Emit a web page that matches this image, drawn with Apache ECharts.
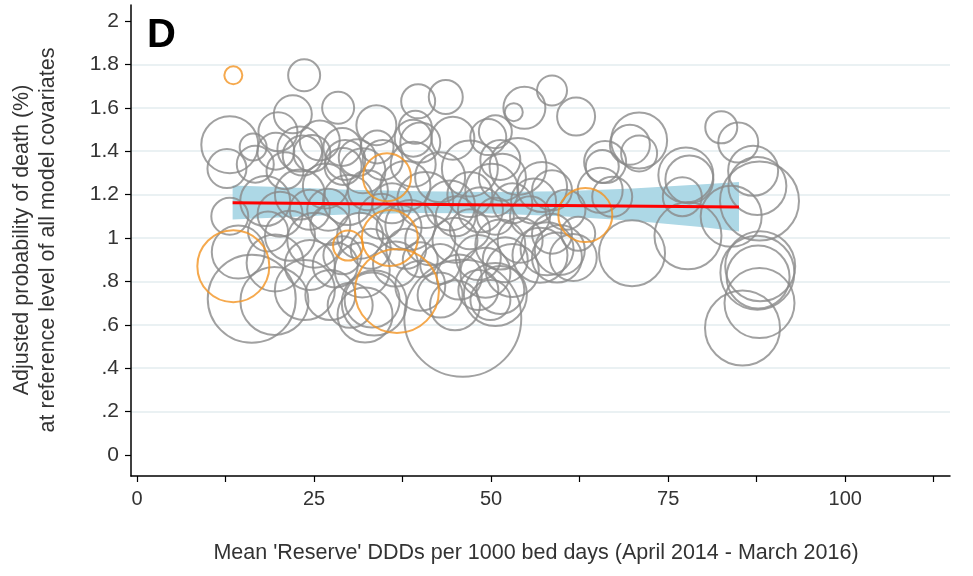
<!DOCTYPE html>
<html>
<head>
<meta charset="utf-8">
<script src="https://cdn.jsdelivr.net/npm/echarts@6/dist/echarts.min.js"></script>
<style>
html,body{margin:0;padding:0;background:#fff;}
#chart{width:973px;height:576px;}
</style>
</head>
<body>
<div id="chart"></div>
<script>
// ---- data (x = mean Reserve DDDs, y = adjusted probability of death %, s = bubble weight) ----
var grayX = [23.6,28.4,22.0,33.8,39.7,43.6,54.7,53.2,58.6,62.0,70.9,70.9,66.1,82.5,84.9,87.0,87.6,87.9,83.9,77.5,78.0,77.0,77.8,69.9,88.0,87.7,87.6,87.9,85.5,
  13.1,12.7,16.4,19.9,16.7,20.9,24.7,18.1,13.1,16.2,19.4,14.3,19.5,19.6,23.4,29.0,29.1,33.9,39.3,50.6,
  39.0,44.6,49.6,31.1,23.0,25.8,29.4,31.9,34.7,40.0,47.0,42.8,39.0,51.3,
  23.0,26.6,29.8,32.6,37.9,40.7,44.2,47.0,51.6,53.8,57.2,58.6,50.1,53.0,60.5,24.4,20.2,
  21.6,25.1,27.3,31.5,38.6,41.4,44.9,47.0,50.6,51.3,54.1,58.6,62.3,56.9,59.7,52.0,48.2,42.8,40.0,24.4,28.0,31.8,
  23.7,27.3,30.1,33.2,32.2,40.0,42.8,44.9,48.2,49.9,51.3,46.0,50.6,53.0,49.2,57.9,59.3,61.6,65.4,67.1,65.7,69.6,33.5,
  34.5,36.0,37.0,33.0,29.0,36.5,38.0,45.0,48.5,55.5,56.0,27.0,18.5,45.5];
var grayY = [1.75,1.60,1.57,1.52,1.63,1.65,1.60,1.58,1.68,1.56,1.45,1.39,1.35,1.51,1.44,1.31,1.24,1.17,1.10,1.29,1.27,1.19,1.01,0.93,0.87,0.82,0.84,0.70,0.585,
  1.43,1.32,1.42,1.49,1.34,1.31,1.39,1.17,1.10,0.72,0.71,0.935,0.885,1.40,1.38,1.42,1.33,1.42,1.51,1.49,
  1.46,1.46,1.465,1.37,1.41,1.45,1.36,1.31,1.36,1.44,1.32,1.28,1.34,1.36,
  1.20,1.24,1.175,1.22,1.24,1.175,1.15,1.20,1.28,1.33,1.235,1.22,1.22,1.16,1.13,1.13,1.11,
  1.01,0.99,1.06,1.01,1.06,0.99,0.99,1.04,1.10,0.97,0.99,1.02,1.02,0.92,0.945,0.90,0.91,0.88,0.90,0.876,0.876,0.853,
  0.76,0.737,0.69,0.714,0.645,0.78,0.737,0.69,0.76,0.714,0.76,0.63,0.74,0.85,0.84,0.95,0.91,0.91,1.22,1.19,1.33,1.43,0.70,
  1.10,1.16,1.05,0.95,0.92,0.88,0.95,1.10,1.13,1.10,1.17,1.13,1.03,0.82];
var grayS = [32,32,38,40,34,34,42,18,30,38,56,36,42,32,40,50,58,79,61,55,48,39,67,66,70,63,74,70,75,
  57,39,27,39,37,37,37,50,37,88,68,53,57,37,40,38,37,33,33,33,
  37,43,36,37,45,40,40,45,40,40,56,50,45,40,
  50,45,50,40,50,56,50,45,47,57,50,40,53,40,40,40,45,
  50,55,40,46,50,50,45,40,37,50,45,40,34,55,50,45,45,40,35,50,45,55,
  60,50,45,55,55,50,45,50,40,40,48,117,63,53,50,53,50,47,45,40,33,40,65,
  45,40,45,40,38,45,40,40,45,40,45,42,40,45];

var orangeX = [13.6,13.6,35.3,29.8,35.7,36.7,63.3];
var orangeY = [1.75,0.87,1.28,0.965,1.00,0.756,1.106];
var orangeS = [18,72,48,30,56,84,54];

var fitX = [13.5, 85];
var fitY = [1.162, 1.143];

var bandX    = [13.5, 20, 30, 40, 50, 60, 70, 80, 85];
var bandLow  = [1.085,1.095,1.11,1.115,1.113,1.10,1.08,1.05,1.03];
var bandHigh = [1.242,1.235,1.222,1.215,1.212,1.215,1.228,1.248,1.258];

var yTicks = [0,0.2,0.4,0.6,0.8,1,1.2,1.4,1.6,1.8,2];
var xTicks = [0,12.5,25,37.5,50,62.5,75,87.5,100,112.5];
var xLabels = [0,25,50,75,100];

// ---- build ----
function zip3(a,b,c){ var r=[]; for(var i=0;i<a.length;i++) r.push([a[i],b[i],c[i]]); return r; }
function zip2(a,b){ var r=[]; for(var i=0;i<a.length;i++) r.push([a[i],b[i]]); return r; }

var FONT = 'Liberation Sans, Arial, sans-serif';
var chart = echarts.init(document.getElementById('chart'), null, {renderer:'canvas'});

var bandPoly = [];
for (var i=0;i<bandX.length;i++) bandPoly.push([bandX[i], bandHigh[i]]);
for (var j=bandX.length-1;j>=0;j--) bandPoly.push([bandX[j], bandLow[j]]);

chart.setOption({
  animation:false,
  backgroundColor:'#ffffff',
  grid:{left:131, right:23, top:5, bottom:100, containLabel:false},
  xAxis:{
    type:'value', min:-0.85, max:114.8,
    axisLine:{show:true, onZero:false, lineStyle:{color:'#000', width:1.5}},
    axisTick:{show:true, length:6, customValues:xTicks, lineStyle:{color:'#000', width:1.2}},
    axisLabel:{show:true, customValues:xLabels, margin:13, fontSize:20, color:'#333', fontFamily:FONT},
    splitLine:{show:false}
  },
  yAxis:{
    type:'value', min:-0.097, max:2.074,
    axisLine:{show:true, onZero:false, lineStyle:{color:'#000', width:1.5}},
    axisTick:{show:true, length:6, customValues:yTicks, lineStyle:{color:'#000', width:1.2}},
    axisLabel:{show:true, customValues:yTicks, margin:12, fontSize:21, color:'#333', fontFamily:FONT,
      formatter:function(v){ var s = String(Math.round(v*10)/10); return s.replace(/^0\./,'.'); }},
    splitLine:{show:true, showMinLine:false, showMaxLine:false, lineStyle:{color:'#e3edef', width:1.5}}
  },
  series:[
    {
      type:'custom', z:1, silent:true,
      data:[0],
      renderItem:function(params, api){
        var pts = bandPoly.map(function(p){ return api.coord(p); });
        return {type:'polygon', shape:{points:pts}, style:{fill:'#add8e6'}};
      }
    },
    {
      type:'scatter', z:2, symbol:'circle',
      data:zip3(grayX, grayY, grayS),
      symbolSize:function(v){ return v[2]; },
      itemStyle:{color:'rgba(0,0,0,0)', borderColor:'#8a8a8a', borderWidth:2}
    },
    {
      type:'scatter', z:3, symbol:'circle',
      data:zip3(orangeX, orangeY, orangeS),
      symbolSize:function(v){ return v[2]; },
      itemStyle:{color:'rgba(0,0,0,0)', borderColor:'#f39322', borderWidth:2}
    },
    {
      type:'line', z:4, symbol:'none',
      data:zip2(fitX, fitY),
      lineStyle:{color:'#ff0000', width:3}
    }
  ],
  graphic:[
    {type:'text', left:147, top:16, style:{text:'D', font:'bold 40px '+FONT, fill:'#000'}},
    {type:'text', x:22, y:240, rotation:Math.PI/2,
      style:{text:'Adjusted probability of death (%)', font:'21.5px '+FONT, fill:'#333', textAlign:'center', textVerticalAlign:'middle'}},
    {type:'text', x:48, y:240, rotation:Math.PI/2,
      style:{text:'at reference level of all model covariates', font:'21.5px '+FONT, fill:'#333', textAlign:'center', textVerticalAlign:'middle'}},
    {type:'text', x:536, y:553,
      style:{text:"Mean 'Reserve' DDDs per 1000 bed days (April 2014 - March 2016)", font:'21.5px '+FONT, fill:'#333', textAlign:'center', textVerticalAlign:'middle'}}
  ]
});
</script>
</body>
</html>
